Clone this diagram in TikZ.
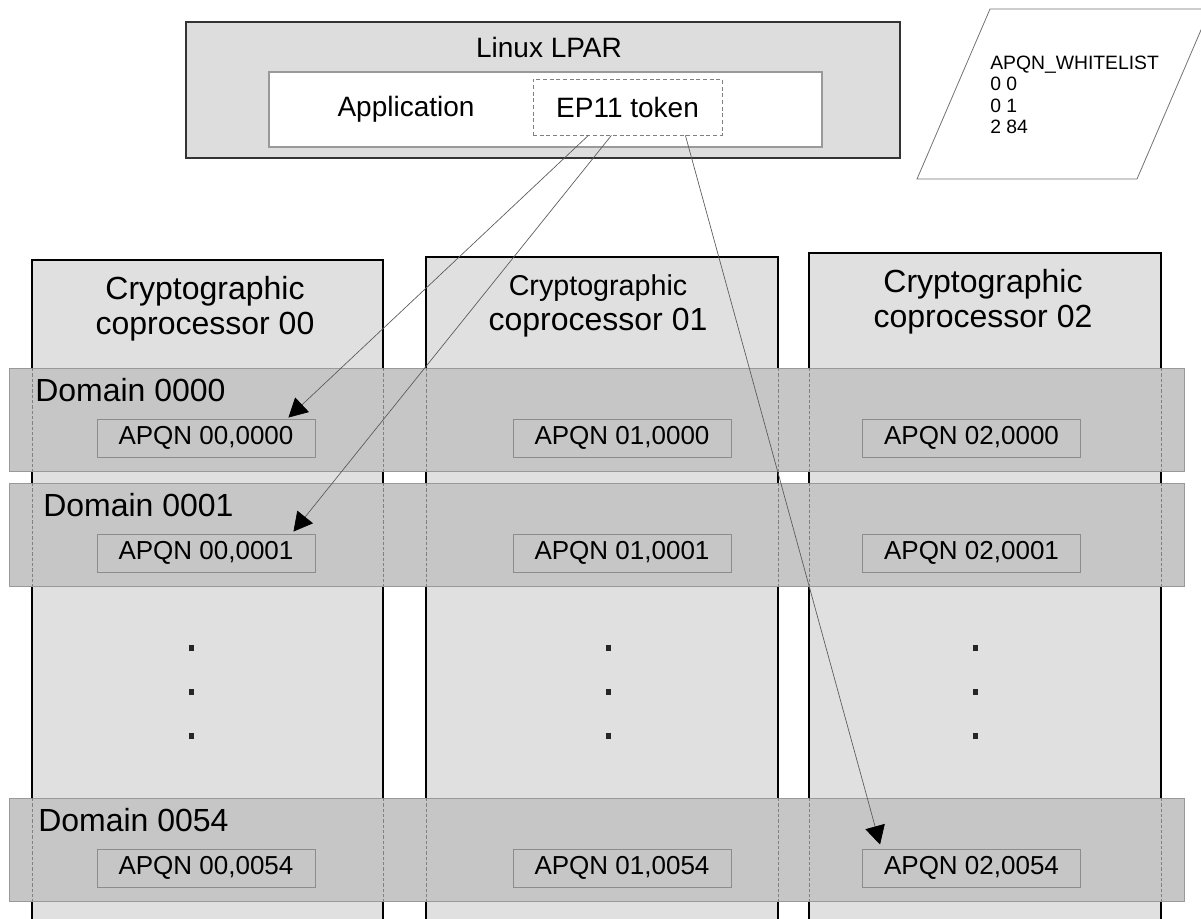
\documentclass[tikz,border=0pt]{standalone}
\usepackage{fontspec}
\setmainfont{Liberation Sans}
\usetikzlibrary{arrows.meta, calc}
\definecolor{lpargray}{HTML}{DDDDDD}
\definecolor{copgray}{HTML}{E0E0E0}
\definecolor{bandgray}{HTML}{C6C6C6}

\begin{document}
\begin{tikzpicture}[x=0.75pt, y=-0.75pt,
  lparbox/.style={draw=black!80, line width=1.3pt, fill=lpargray,
                  minimum width=535.5pt, minimum height=102pt},
  appbox/.style={draw=black!40, line width=0.8pt, fill=white,
                 minimum width=414.75pt, minimum height=56.25pt},
  tokbox/.style={draw=black!50, dash pattern=on 3pt off 2pt, line width=0.6pt, fill=white,
                 minimum width=141.75pt, minimum height=42pt, font=\fontsize{21}{25}\selectfont},
  band/.style={draw=black!40, line width=0.6pt, fill=bandgray},
  edge/.style={draw=black!50, dash pattern=on 2.5pt off 1.5pt, line width=0.5pt},
  apqn/.style={draw=black!45, line width=0.7pt, fill=bandgray, inner sep=0pt,
               minimum width=163.5pt, minimum height=28.5pt, font=\fontsize{19.5}{23}\selectfont},
  domlabel/.style={anchor=west, inner sep=0pt, font=\fontsize{24}{28}\selectfont},
  coplabel/.style={align=center, inner sep=0pt, font=\fontsize{24}{26.25}\selectfont},
  arr/.style={draw=black!65, line width=0.5pt, -{Triangle[length=14pt, width=15pt, color=black]}}]
  \useasboundingbox (0,0) rectangle (1201,918);
  \fill[white] (0,0) rectangle (1201,918);
  \clip (0,0) rectangle (1201,918);

  % Linux LPAR with the application and its token
  \node[lparbox] (lpar) at (543,90) {};
  \node[font=\fontsize{21}{25}\selectfont] (lpartitle) at (549,47) {Linux LPAR};
  \node[appbox] (app) at (545.5,109.5) {};
  \node[font=\fontsize{21}{25}\selectfont] (applabel) at (406,109) {Application};
  \node[tokbox] (tok) at (627.5,107) {EP11 token};

  % whitelist sheet
  \draw[black!55, line width=0.6pt] (990,9) -- (1210,9) -- (1137,179) -- (917,179) -- cycle;
  \node[anchor=west, align=left, inner sep=0pt, font=\fontsize{14.5}{16}\selectfont] (wl)
    at (990,95) {APQN\_WHITELIST\\0 0\\0 1\\2 84};

  % coprocessor columns
  \foreach \l/\r/\t in {32/383/260, 426/778/257, 809/1161/253}
    \draw[black, line width=1.1pt, fill=copgray] (\l,\t) rectangle (\r,930);
  \node[coplabel] (cop0) at (205,309) {Cryptographic\\coprocessor 00};
  \node[coplabel] (cop1) at (598,306) {{\fontsize{21.5}{26.25}\selectfont Cryptographic}\\coprocessor 01};
  \node[coplabel] (cop2) at (983,302) {Cryptographic\\coprocessor 02};

  % domain bands
  \foreach \t in {368,483,798} {
    \draw[band] (9,\t) rectangle (1184,\t+103);
    \foreach \x in {32,383,426,778,809,1161}
      \draw[edge] (\x,\t) -- (\x,\t+103);
  }
  \node[domlabel] (dom0) at (35,390) {Domain 0000};
  \node[domlabel] (dom1) at (43,505) {Domain 0001};
  \node[domlabel] (dom54) at (38,820) {Domain 0054};

  % APQNs
  \foreach \c/\x in {00/206, 01/622, 02/971.5}
    \foreach \d/\y in {0000/438, 0001/553, 0054/868}
      \node[apqn] (a\c-\d) at (\x,\y) {APQN \c,\d};

  % dots between the domains
  \foreach \x in {191,608,975}
    \foreach \y in {648,692,736}
      \fill[black!85] (\x-2.5,\y-3) rectangle (\x+2.5,\y+3);

  % token uses the whitelisted APQNs
  \draw[arr] ($(tok.south east)+(-134,0)$) -- ($(a00-0000.north east)+(-27,-1)$);
  \draw[arr] ($(tok.south east)+(-111,0)$) -- ($(a00-0001.north east)+(-22,-2)$);
  \draw[arr] ($(tok.south east)+(-37,0)$) -- ($(a02-0054.north west)+(18,-4)$);
\end{tikzpicture}
\end{document}
